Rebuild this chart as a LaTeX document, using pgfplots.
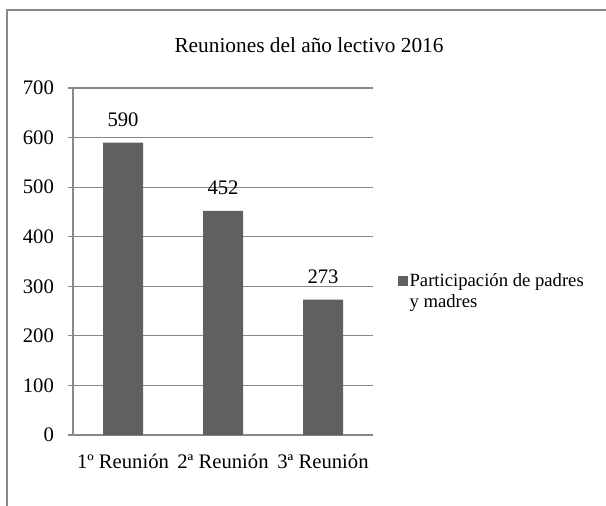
\documentclass[border=0pt]{standalone}
\usepackage{fontspec}
\setmainfont{Liberation Serif}
\usepackage{pgfplots}
\pgfplotsset{compat=1.18}
\definecolor{bargray}{HTML}{606060}
\definecolor{linegray}{HTML}{888888}

\begin{document}
\fontsize{15.5}{19}\selectfont
\begin{tikzpicture}
\useasboundingbox (0pt,0pt) rectangle (454.5pt,-379.5pt);
% frame and title, in pixels of the reference (y downwards)
\begin{scope}[x=0.75pt,y=-0.75pt]
  \draw[linegray, line width=1.2pt] (7,506) -- (7,10) -- (606,10);
  \node[font=\fontsize{16}{19}\selectfont] at (309,45) {Reuniones del año lectivo 2016};
\end{scope}
\begin{axis}[
  at={(54.75pt,-326.25pt)}, anchor=south west,
  width=225pt, height=260.25pt, scale only axis,
  xmin=-0.5, xmax=2.5, ymin=0, ymax=700,
  axis x line*=bottom, axis y line*=left,
  axis line style={linegray, line width=0.8pt},
  ytick={0,100,...,700},
  ymajorgrids, major grid style={linegray, line width=0.8pt},
  xtick={0,1,2},
  xticklabels={1º Reunión,2ª Reunión,3ª Reunión},
  extra x ticks={-0.5,0.5,1.5,2.5},
  extra x tick labels={},
  extra x tick style={major tick length=4pt, tick style={linegray, line width=0.8pt}, grid=none},
  x tick style={draw=none},
  y tick style={linegray, line width=0.8pt},
  major tick length=4pt,
  tick align=outside,
  xticklabel style={yshift=-5pt},
  yticklabel style={xshift=-5pt},
  /pgf/number format/assume math mode=true,
  ybar, bar width=30pt,
  nodes near coords,
  nodes near coords style={font=\fontsize{15.5}{19}\selectfont, yshift=6.5pt},
  legend style={at={(1.07,0.478)}, anchor=north west, draw=none, fill=none,
    font=\fontsize{14}{16}\selectfont,
    nodes={align=left, inner sep=1pt}},
  legend image code/.code={\fill[bargray] (0pt,4.6pt) rectangle (7.5pt,12.1pt);},
]
\addplot[fill=bargray, draw=none] coordinates {(0,590) (1,452) (2,273)};
\legend{Participación de padres\\y madres}
\end{axis}
\end{tikzpicture}
\end{document}
